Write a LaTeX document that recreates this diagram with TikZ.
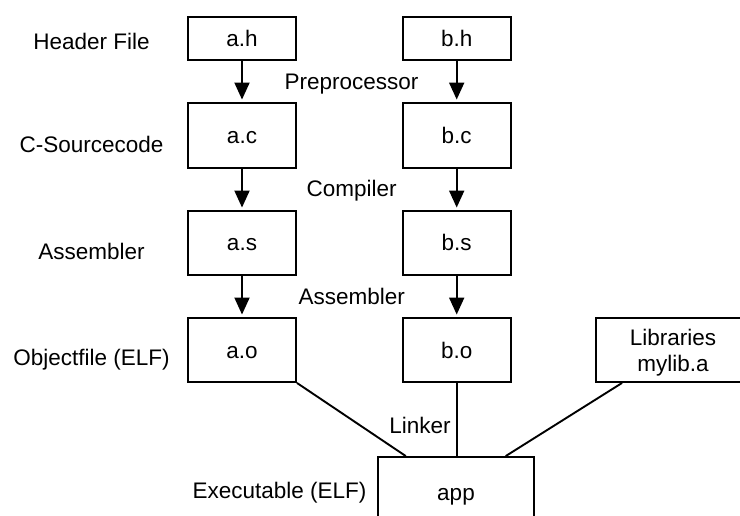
\documentclass[tikz,border=0pt]{standalone}
\usepackage{fontspec}
\setmainfont{Liberation Sans}
\usetikzlibrary{arrows.meta,calc}
\begin{document}
\begin{tikzpicture}[x=1pt,y=-1pt,
  font=\fontsize{22.5}{26.7}\selectfont,
  filebox/.style={draw,line width=1.9pt,inner sep=0pt,minimum width=108pt,text height=16pt,text depth=0pt},
  lbl/.style={anchor=base,inner sep=0pt},
  flow/.style={line width=1.9pt,-{Triangle[width=15pt,length=17pt]},shorten >=2.5pt},
  link/.style={line width=1.9pt}]
\useasboundingbox (0,0) rectangle (740,516);
\clip (0,0) rectangle (740,516);
% row labels
\node[lbl] (lh) at (91.5,50) {Header File};
\node[lbl] (lc) at (91.5,153) {C-Sourcecode};
\node[lbl] (ls) at (91.5,260) {Assembler};
\node[lbl] (lo) at (91.5,365) {Objectfile (ELF)};
\node[lbl,anchor=base east] (le) at (366.7,498) {Executable (ELF)};
% boxes
\node[filebox,minimum height=43pt] (ah) at (242,38.5) {a.h};
\node[filebox,minimum height=43pt] (bh) at (456.7,38.5) {b.h};
\node[filebox,minimum height=65pt] (ac) at (242,135.5) {a.c};
\node[filebox,minimum height=65pt] (bc) at (456.7,135.5) {b.c};
\node[filebox,minimum height=64pt] (as) at (242,243) {a.s};
\node[filebox,minimum height=64pt] (bs) at (456.7,243) {b.s};
\node[filebox,minimum height=64pt] (ao) at (242,350) {a.o};
\node[filebox,minimum height=64pt] (bo) at (456.7,350) {b.o};
\node[draw,line width=1.9pt,inner sep=0pt,minimum width=154pt,minimum height=64pt] (lib) at (673,350) {};
\node[lbl] (libt1) at (673,345) {Libraries};
\node[lbl] (libt2) at (673,371.7) {mylib.a};
\node[filebox,minimum width=156pt,minimum height=70pt] (app) at (456,492) {app};
% step labels
\node[lbl] (pre) at (351.5,90) {Preprocessor};
\node[lbl] (comp) at (351.7,197) {Compiler};
\node[lbl] (asm) at (351.7,305) {Assembler};
\node[lbl] (lnk) at (420,433) {Linker};
% arrows
\draw[flow] (ah) -- (ac);
\draw[flow] (bh) -- (bc);
\draw[flow] (ac) -- (as);
\draw[flow] (bc) -- (bs);
\draw[flow] (as) -- (ao);
\draw[flow] (bs) -- (bo);
% linker lines
\coordinate (appL) at ($(app.north west)+(28.7,0)$);
\coordinate (appR) at ($(app.north west)+(128.7,0)$);
\coordinate (libL) at ($(lib.south west)+(27,0)$);
\draw[link] (ao.south east) -- (appL);
\draw[link] (bo.south) -- (bo.south |- app.north);
\draw[link] (libL) -- (appR);
\end{tikzpicture}
\end{document}
